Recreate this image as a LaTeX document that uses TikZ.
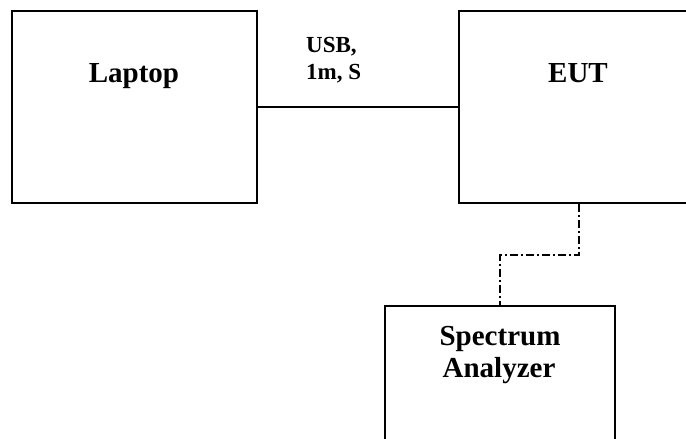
\documentclass[tikz,border=0pt]{standalone}
\usepackage{fontspec}
\setmainfont{Liberation Serif}
\begin{document}
\begin{tikzpicture}[x=1pt,y=-1pt,
  box/.style={draw,line width=1.9pt,rectangle,inner sep=0pt,anchor=north west},
  big/.style={font=\fontsize{29}{32}\selectfont\bfseries,inner sep=0pt,anchor=base},
  small/.style={font=\fontsize{23}{27}\selectfont\bfseries,inner sep=0pt,anchor=base west},
  link/.style={line width=1.9pt},
  ddlink/.style={line width=1.9pt,dash pattern=on 8pt off 3pt on 2pt off 3pt}]
\useasboundingbox (0,0) rectangle (686,439);
\clip (0,0) rectangle (686,439);
\node[box,minimum width=245pt,minimum height=192pt] (laptop) at (11,10) {};
\node[box,minimum width=240pt,minimum height=192pt] (eut) at (458,10) {};
\node[box,minimum width=230pt,minimum height=200pt] (sa) at (384,305) {};
\node[big] (laptoptxt) at (134,82) {Laptop};
\node[big] (euttxt) at (578,82) {EUT};
\node[big] (satxtA) at (500,345) {Spectrum};
\node[big] (satxtB) at (499,377) {Analyzer};
\node[small] (usbA) at (306,52) {USB,};
\node[small] (usbB) at (306,79) {1m, S};
\draw[link] (laptop.east) -- (eut.west);
\draw[ddlink] (eut.south) -- ++(0,51) coordinate (bend) -| (sa.north);
\end{tikzpicture}
\end{document}
